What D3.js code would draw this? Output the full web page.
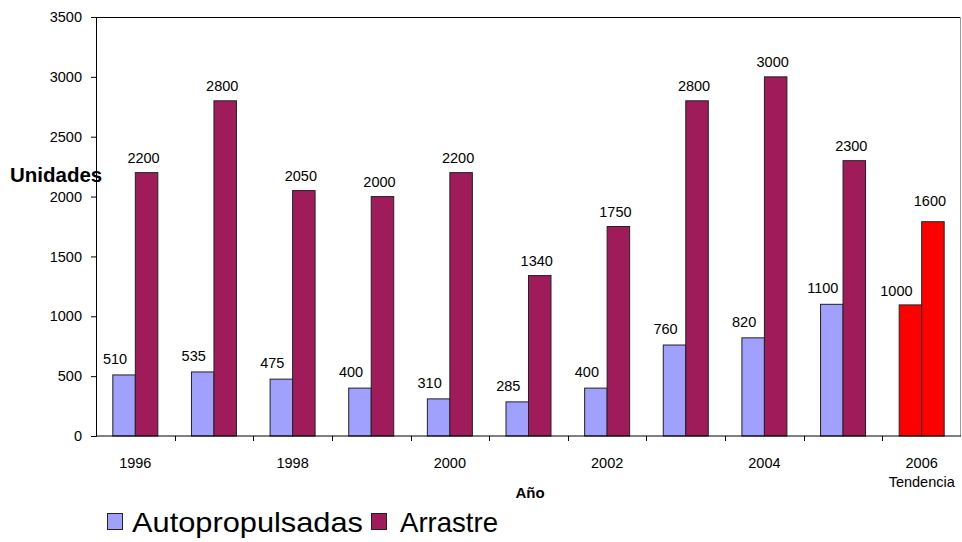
<!DOCTYPE html>
<html>
<head>
<meta charset="utf-8">
<script src="https://cdn.jsdelivr.net/npm/d3@7"></script>
<style>
  body { margin: 0; background: #fff; }
  text { font-family: "Liberation Sans", Arial, sans-serif; fill: #000; }
</style>
</head>
<body>
<div id="chart"></div>
<script>
// datos
const years = ["1996", "1997", "1998", "1999", "2000", "2001", "2002", "2003", "2004", "2005", "2006"];
const autopropulsadas = [510, 535, 475, 400, 310, 285, 400, 760, 820, 1100];
const arrastre = [2200, 2800, 2050, 2000, 2200, 1340, 1750, 2800, 3000, 2300];
const tendencia = [1095, 1790];
const tendenciaLabels = ["1000", "1600"];
const yTicks = [0, 500, 1000, 1500, 2000, 2500, 3000, 3500];
const xLabelYears = ["1996", "1998", "2000", "2002", "2004", "2006"];

const width = 962, height = 542;
const margin = { left: 96, right: 1, top: 17, bottom: 106 };
const fs = "14.5px";

const svg = d3.select("#chart").append("svg")
    .attr("width", width)
    .attr("height", height);

const x = d3.scaleBand()
    .domain(years)
    .range([margin.left, width - margin.right])
    .paddingInner(0)
    .paddingOuter(0);

const y = d3.scaleLinear()
    .domain([0, 3500])
    .range([height - margin.bottom, margin.top]);

const groupW = 45;
const barW = groupW / 2;
const barX = (yr, i) => x(yr) + (x.bandwidth() - groupW) / 2 + i * barW;

// marco del area
svg.append("line")
    .attr("x1", margin.left).attr("x2", width - margin.right)
    .attr("y1", margin.top + 0.5).attr("y2", margin.top + 0.5)
    .attr("stroke", "#000").attr("stroke-width", 1);
svg.append("line")
    .attr("x1", width - margin.right - 0.5).attr("x2", width - margin.right - 0.5)
    .attr("y1", margin.top).attr("y2", y(0))
    .attr("stroke", "#999").attr("stroke-width", 1);

// eje Y
const yAxis = svg.append("g")
    .attr("transform", `translate(${margin.left},0)`)
    .call(d3.axisLeft(y).tickValues(yTicks).tickFormat(d3.format("d")).tickSize(5).tickPadding(9));
yAxis.selectAll("text").style("font-size", fs).style("font-family", "Liberation Sans, Arial, sans-serif");
yAxis.select(".domain").attr("stroke", "#000");

// barras
const series = [
    { name: "Autopropulsadas", values: autopropulsadas, color: "#a0a0ff" },
    { name: "Arrastre", values: arrastre, color: "#a01b5a" }
];

series.forEach((s, i) => {
    svg.selectAll(".bar" + i)
        .data(s.values)
        .enter()
        .append("rect")
        .attr("x", (d, j) => barX(years[j], i))
        .attr("y", d => y(d))
        .attr("width", barW)
        .attr("height", d => y(0) - y(d))
        .attr("fill", s.color)
        .attr("stroke", "#222")
        .attr("stroke-width", 1);

    svg.selectAll(".lab" + i)
        .data(s.values)
        .enter()
        .append("text")
        .attr("x", (d, j) => barX(years[j], i) + barW / 2 - (i === 0 ? 9 : 3))
        .attr("y", d => y(d) - (i === 0 ? 11 : 10))
        .attr("text-anchor", "middle")
        .style("font-size", fs)
        .text(d => d);
});

// tendencia 2006
svg.selectAll(".tend")
    .data(tendencia)
    .enter()
    .append("rect")
    .attr("x", (d, i) => barX("2006", i))
    .attr("y", d => y(d))
    .attr("width", barW)
    .attr("height", d => y(0) - y(d))
    .attr("fill", "#ff0000")
    .attr("stroke", "#222")
    .attr("stroke-width", 1);

const tendLabelY = [y(1095) - 9, y(1790) - 16];
svg.selectAll(".tendlab")
    .data(tendenciaLabels)
    .enter()
    .append("text")
    .attr("x", (d, i) => barX("2006", i) + barW / 2 - (i === 0 ? 14 : 3))
    .attr("y", (d, i) => tendLabelY[i])
    .attr("text-anchor", "middle")
    .style("font-size", fs)
    .text(d => d);

// eje X
const xAxis = svg.append("g")
    .attr("transform", `translate(0,${y(0)})`);
xAxis.append("line")
    .attr("x1", margin.left).attr("x2", width - margin.right)
    .attr("y1", 0).attr("y2", 0)
    .attr("stroke", "#000");
xAxis.selectAll(".tick")
    .data(years.slice(1))
    .enter()
    .append("line")
    .attr("x1", d => Math.round(x(d)) + 0.5)
    .attr("x2", d => Math.round(x(d)) + 0.5)
    .attr("y1", 0).attr("y2", 5)
    .attr("stroke", "#000");
xAxis.selectAll(".xlab")
    .data(xLabelYears)
    .enter()
    .append("text")
    .attr("x", d => x(d) + x.bandwidth() / 2)
    .attr("y", 32)
    .attr("text-anchor", "middle")
    .style("font-size", fs)
    .text(d => d);
xAxis.append("text")
    .attr("x", x("2006") + x.bandwidth() / 2)
    .attr("y", 51)
    .attr("text-anchor", "middle")
    .style("font-size", fs)
    .text("Tendencia");

// titulos de ejes
svg.append("text")
    .attr("x", 530)
    .attr("y", 498)
    .attr("text-anchor", "middle")
    .style("font-size", "15px")
    .style("font-weight", "bold")
    .text("Año");

svg.append("text")
    .attr("x", 10)
    .attr("y", 182)
    .style("font-size", "20.5px")
    .style("font-weight", "bold")
    .text("Unidades");

// leyenda
const legend = svg.append("g");
const legendX = [107, 371];
const legendTextX = [132, 400];
const legendTextW = [231, 98];
series.forEach((s, i) => {
    legend.append("rect")
        .attr("x", legendX[i] + 0.5)
        .attr("y", 513.5)
        .attr("width", 15)
        .attr("height", 16)
        .attr("fill", s.color)
        .attr("stroke", "#222");
    legend.append("text")
        .attr("x", legendTextX[i])
        .attr("y", 532)
        .attr("textLength", legendTextW[i])
        .attr("lengthAdjust", "spacingAndGlyphs")
        .style("font-size", "28px")
        .text(s.name);
});
</script>
</body>
</html>
